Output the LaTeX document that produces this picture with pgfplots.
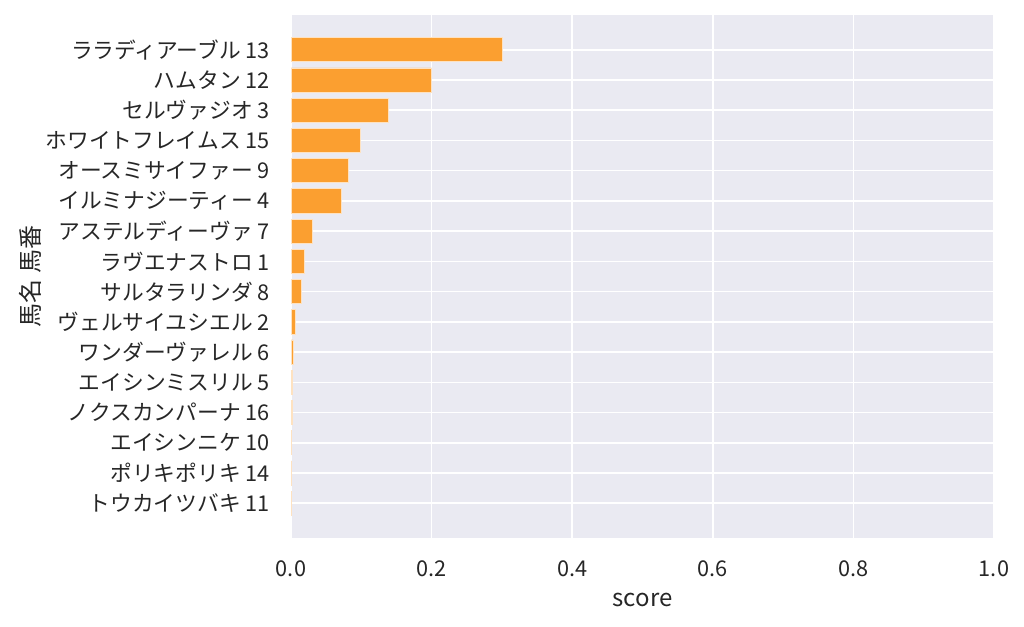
\documentclass[border=0pt]{standalone}
\usepackage{pgfplots}
\pgfplotsset{compat=1.18}
\usepackage{fontspec}
\setmainfont{Noto Sans CJK JP}
\definecolor{bg}{RGB}{234,234,242}
\definecolor{barc}{RGB}{251,159,48}
\definecolor{txt}{RGB}{38,38,38}
\begin{document}
\begin{tikzpicture}
\path[use as bounding box] (0pt,0pt) rectangle (768pt,470.25pt);
\begin{axis}[
  at={(218.25pt,66.75pt)}, anchor=south west,
  scale only axis, width=527.25pt, height=392.25pt,
  xmin=0, xmax=1, ymin=-1.15, ymax=16.15, y dir=reverse,
  axis background/.style={fill=bg},
  axis line style={draw=none},
  major tick length=0pt,
  tick style={draw=none},
  grid=major,
  major grid style={draw=white, line width=1.2pt},
  xtick={0,0.2,0.4,0.6,0.8,1.0},
  xticklabel={\pgfmathprintnumber[fixed,precision=1,fixed zerofill]{\tick}},
  /pgf/number format/assume math mode=true,
  ytick={0,...,15},
  yticklabels={ララディアーブル 13,ハムタン 12,セルヴァジオ 3,ホワイトフレイムス 15,オースミサイファー 9,イルミナジーティー 4,アステルディーヴァ 7,ラヴエナストロ 1,サルタラリンダ 8,ヴェルサイユシエル 2,ワンダーヴァレル 6,エイシンミスリル 5,ノクスカンパーナ 16,エイシンニケ 10,ポリキポリキ 14,トウカイツバキ 11},
  ticklabel style={font=\fontsize{16.3pt}{19pt}\selectfont, text=txt},
  yticklabel style={anchor=east, inner sep=0pt, xshift=-15.75pt},
  xticklabel style={anchor=base, inner sep=0pt, yshift=-29pt},
  xlabel={score},
  ylabel={馬名 馬番},
  every axis x label/.style={at={(axis description cs:0.5,-0.1185)}, anchor=center, font=\fontsize{18pt}{21pt}\selectfont, text=txt},
  every axis y label/.style={at={(axis description cs:-0.371,0.5)}, anchor=center, rotate=90, font=\fontsize{18pt}{21pt}\selectfont, text=txt},
  xbar, bar width=0.8, bar shift=0pt,
]
\addplot[fill=barc, draw=white!70!barc, line width=0.6pt] coordinates {
(0.301,0) (0.200,1) (0.138,2) (0.099,3) (0.081,4) (0.072,5) (0.030,6) (0.019,7)
(0.0142,8) (0.006,9) (0.003,10) (0.002,11) (0.002,12) (0.001,13) (0.0005,14) (0.0003,15)
};
\end{axis}
\end{tikzpicture}
\end{document}
